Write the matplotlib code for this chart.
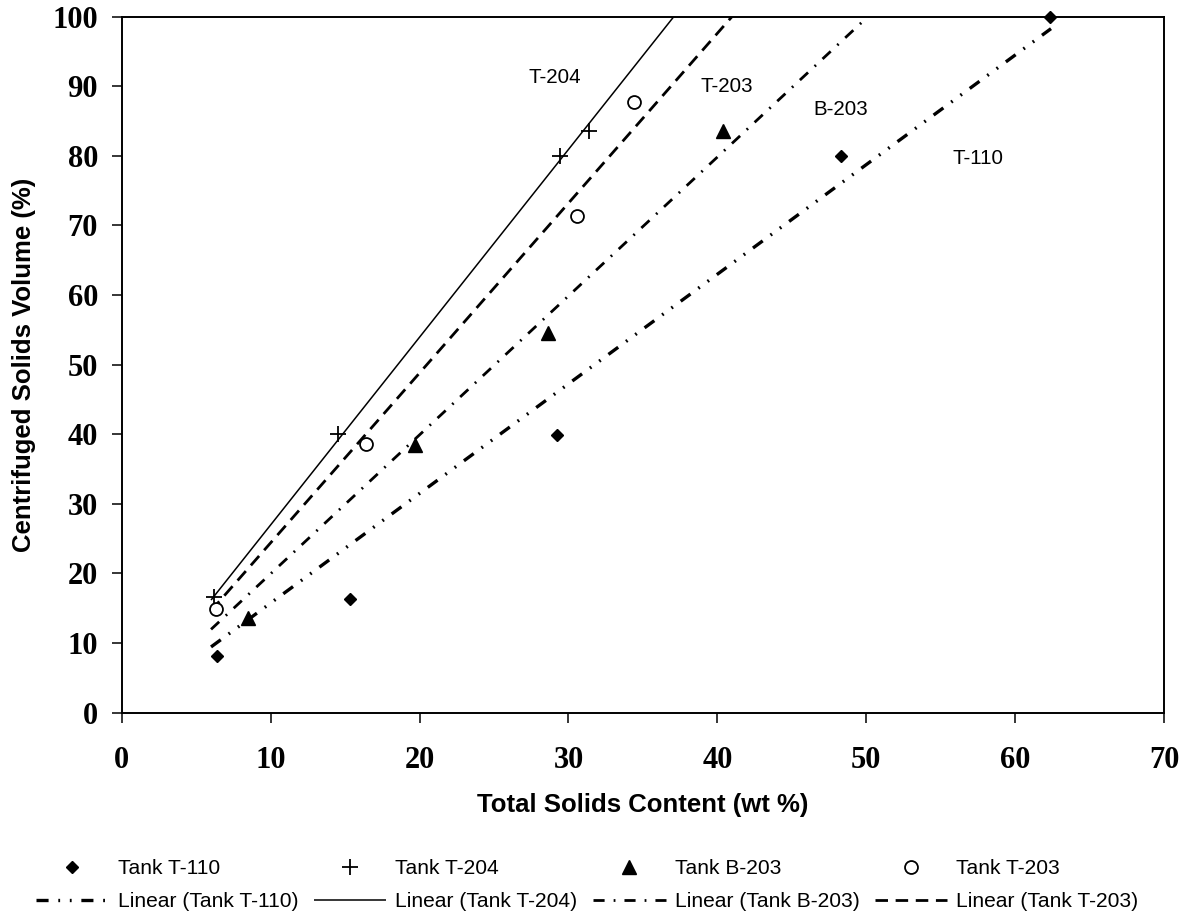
import numpy as np
import matplotlib
matplotlib.use("Agg")
import matplotlib.pyplot as plt

plt.rcParams["lines.scale_dashes"] = False

# Measured samples: total solids (wt %) vs centrifuged solids volume (%)
t110_x = [6.4, 15.3, 29.2, 48.3, 62.3]
t110_y = [8.1, 16.4, 39.9, 80.0, 100.0]

t204_x = [6.2, 14.5, 29.4, 31.4]
t204_y = [16.6, 40.1, 80.0, 83.6]

b203_x = [8.5, 19.7, 28.6, 40.4]
b203_y = [13.6, 38.4, 54.5, 83.6]

t203_x = [6.3, 16.4, 30.6, 34.4]
t203_y = [14.9, 38.6, 71.3, 87.7]

x_ticks = [0, 10, 20, 30, 40, 50, 60, 70]
y_ticks = [0, 10, 20, 30, 40, 50, 60, 70, 80, 90, 100]

SANS = "Liberation Sans"
SERIF = "Liberation Serif"

fig = plt.figure(figsize=(11.86, 9.22), dpi=100)
ax = fig.add_axes([0.1026, 0.227, 0.879, 0.755])


def origin_fit(x, y):
    """Least-squares slope of a line forced through the origin."""
    x = np.asarray(x, float)
    y = np.asarray(y, float)
    return (x * y).sum() / (x * x).sum()


fit_x = np.linspace(6.0, 62.4, 200)

series = [
    ("Tank T-110", t110_x, t110_y,
     dict(marker="D", ms=6.6, mfc="black", mec="black"),
     dict(lw=2.4, dashes=(8.7, 7, 1.3, 7, 1.3, 7))),
    ("Tank T-204", t204_x, t204_y,
     dict(marker="+", ms=11, mec="black", mew=1.3),
     dict(lw=1.1, linestyle="-")),
    ("Tank B-203", b203_x, b203_y,
     dict(marker="^", ms=9.5, mfc="black", mec="black"),
     dict(lw=2.0, dashes=(8, 6.5, 1.3, 6.5))),
    ("Tank T-203", t203_x, t203_y,
     dict(marker="o", ms=9.3, mfc="white", mec="black", mew=1.3),
     dict(lw=2.0, dashes=(9, 5.5))),
]

marker_handles = []
line_handles = []
for name, xs, ys, mstyle, lstyle in series:
    slope = origin_fit(xs, ys)
    ln, = ax.plot(fit_x, slope * fit_x, color="black",
                  solid_capstyle="butt", dash_capstyle="butt", **lstyle)
    mk, = ax.plot(xs, ys, linestyle="none", clip_on=False, zorder=5, **mstyle)
    marker_handles.append((mk, name))
    line_handles.append((ln, f"Linear ({name})"))

ax.set_xlim(0, 70)
ax.set_ylim(0, 100)
ax.set_xticks(x_ticks)
ax.set_yticks(y_ticks)
ax.set_xticklabels([str(v) for v in x_ticks], fontfamily=SERIF,
                   fontweight="bold", fontsize=22)
ax.set_yticklabels([str(v) for v in y_ticks], fontfamily=SERIF,
                   fontweight="bold", fontsize=22)
ax.tick_params(direction="out", length=7, width=1.1, colors="black")
ax.tick_params(axis="x", pad=17)
ax.tick_params(axis="y", pad=10)
for sp in ax.spines.values():
    sp.set_linewidth(1.4)
    sp.set_color("black")

ax.set_xlabel("Total Solids Content (wt %)", fontfamily=SANS,
              fontweight="bold", fontsize=18.5)
ax.set_ylabel("Centrifuged Solids Volume (%)", fontfamily=SANS,
              fontweight="bold", fontsize=18.5)
ax.xaxis.set_label_coords(0.5, -0.132)
ax.xaxis.label.set_verticalalignment("center")
ax.yaxis.set_label_coords(-0.0938, 0.5)
ax.yaxis.label.set_verticalalignment("center")

for text, tx, ty in [("T-204", 29.1, 91.2), ("T-203", 40.6, 90.0),
                     ("B-203", 48.3, 86.7), ("T-110", 57.5, 79.6)]:
    ax.text(tx, ty, text, ha="center", va="center", fontfamily=SANS,
            fontsize=14.8)

# Two-row legend: marker entries above, fitted lines below
handles = []
labels = []
for (mk, mname), (ln, lname) in zip(marker_handles, line_handles):
    handles += [mk, ln]
    labels += [mname, lname]

fig.legend(handles, labels, ncol=4, loc="upper left",
           bbox_to_anchor=(36 / 1186, 1 - 859 / 922), frameon=False,
           borderpad=0, borderaxespad=0, handlelength=3.47,
           handletextpad=0.43, columnspacing=0.73, labelspacing=0.66,
           numpoints=1, prop={"family": SANS, "size": 15.1})

fig.savefig("out.png", dpi=100, facecolor="white")
